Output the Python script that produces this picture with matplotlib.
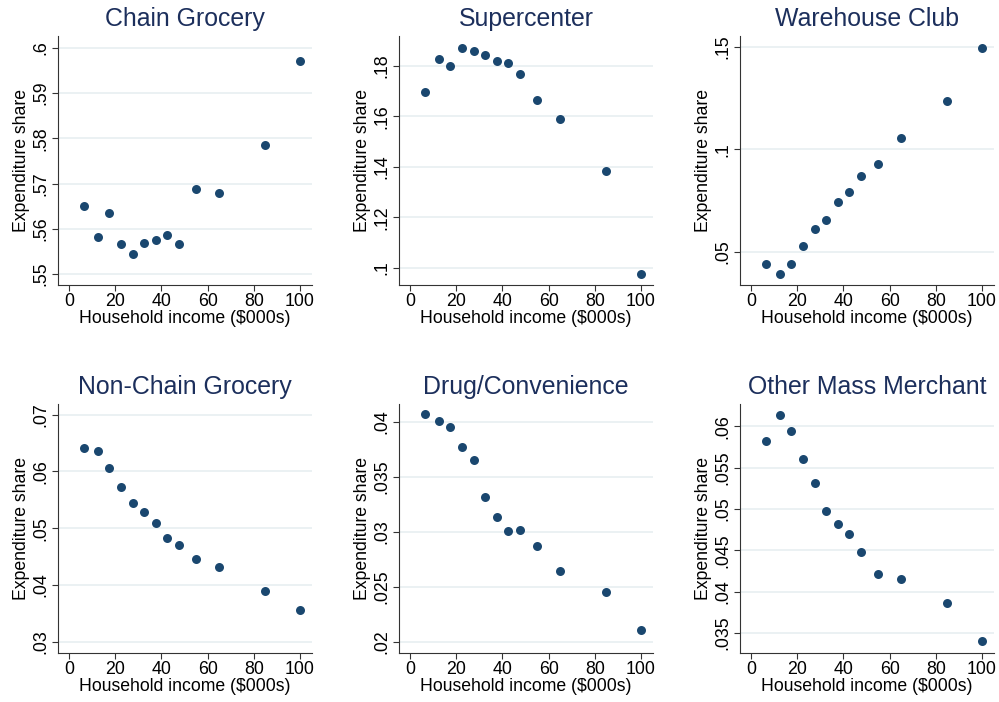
import matplotlib
matplotlib.use("Agg")
import matplotlib.pyplot as plt
from matplotlib.ticker import FuncFormatter

plt.rcParams['font.family'] = ['Liberation Sans', 'DejaVu Sans']

# household income bins ($000s)
income = [6.5, 12.5, 17.5, 22.5, 27.5, 32.5, 37.5, 42.5, 47.5, 55, 65, 85, 100]

chain_grocery = [.5650, .5582, .5634, .5566, .5545, .5568, .5575, .5587, .5567,
                 .5689, .5679, .5785, .5970]
supercenter = [.1696, .1825, .1799, .1870, .1859, .1843, .1820, .1811, .1766,
               .1663, .1588, .1383, .0976]
warehouse_club = [.0438, .0390, .0438, .0529, .0611, .0657, .0741, .0790, .0868,
                  .0930, .1057, .1237, .1495]
non_chain_grocery = [.0642, .0636, .0607, .0573, .0545, .0528, .0510, .0482, .0471,
                     .0445, .0431, .0390, .0355]
drug_convenience = [.0407, .0401, .0395, .0377, .0365, .0332, .0313, .0301, .0302,
                    .0287, .0264, .0245, .0211]
other_mass = [.0582, .0614, .0594, .0561, .0532, .0498, .0482, .0470, .0448,
              .0422, .0416, .0387, .0340]

titles = ["Chain Grocery", "Supercenter", "Warehouse Club",
          "Non-Chain Grocery", "Drug/Convenience", "Other Mass Merchant"]
series = [chain_grocery, supercenter, warehouse_club,
          non_chain_grocery, drug_convenience, other_mass]
yticks = [
    [.55, .56, .57, .58, .59, .6],
    [.1, .12, .14, .16, .18],
    [.05, .1, .15],
    [.03, .04, .05, .06, .07],
    [.02, .025, .03, .035, .04],
    [.035, .04, .045, .05, .055, .06],
]
xticks = [0, 20, 40, 60, 80, 100]

ylims = [(.5476, .6026), (.0933, .1917), (.0337, .1554),
         (.0280, .0719), (.0190, .0416), (.0326, .0627)]

W, H = 999, 702
lefts = [58, 399, 740]
tops = [36, 404]
aw, ah = 254, 249

navy = '#1a476f'
title_col = '#1c2f5c'
grid_col = '#e8eff1'


def stata_fmt(v, pos):
    s = f"{round(v, 6):g}"
    if s.startswith("0."):
        s = s[1:]
    return s


fig = plt.figure(figsize=(W / 100, H / 100), dpi=100)

for i, (title, y) in enumerate(zip(titles, series)):
    r, c = divmod(i, 3)
    ax = fig.add_axes([lefts[c] / W, 1 - (tops[r] + ah) / H, aw / W, ah / H])
    ax.set_axisbelow(True)
    for yt in yticks[i]:
        ax.axhline(yt, color=grid_col, lw=1.2, zorder=0)
    ax.scatter(income, y, s=42, color=navy, zorder=3, linewidths=0)
    ax.set_xlim(-4.8, 105.2)
    ax.set_ylim(*ylims[i])
    ax.set_xticks(xticks)
    ax.set_yticks(yticks[i])
    ax.yaxis.set_major_formatter(FuncFormatter(stata_fmt))
    for lab in ax.get_yticklabels():
        lab.set_rotation(90)
        lab.set_va('center')
    ax.tick_params(labelsize=12.8, length=4, width=0.8, color='#333333', pad=2)
    ax.spines['top'].set_visible(False)
    ax.spines['right'].set_visible(False)
    for sp in ['left', 'bottom']:
        ax.spines[sp].set_color('#333333')
        ax.spines[sp].set_linewidth(0.8)
    ax.set_xlabel("Household income ($000s)", fontsize=12.7, labelpad=0)
    ax.set_ylabel("Expenditure share", fontsize=12.7, labelpad=2)
    ax.set_title(title, fontsize=17.9, color=title_col, pad=7)

fig.savefig("out.png", dpi=100, facecolor='white')
